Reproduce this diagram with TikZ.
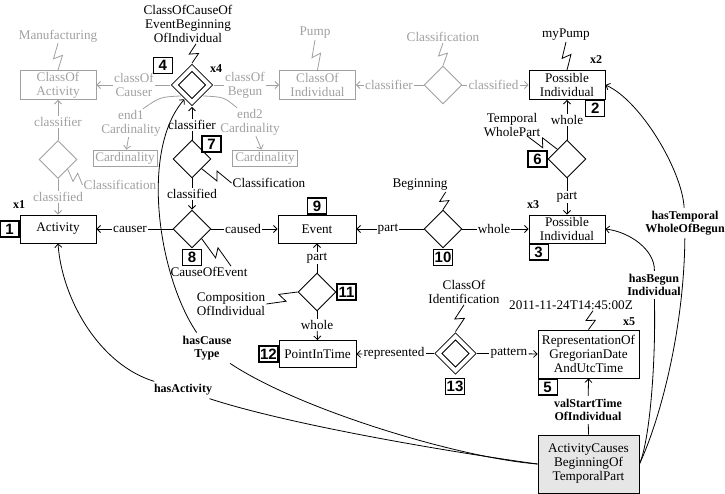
\documentclass[tikz,border=0pt]{standalone}
\usepackage{fontspec}
\setmainfont{Liberation Serif}
\newfontfamily\tagfont{Liberation Sans}
\usetikzlibrary{shapes.geometric,arrows.meta,calc}
\definecolor{lg}{HTML}{A0A0A0}
\definecolor{boxfill}{HTML}{E6E6E6}
\newcommand\zigline[3][]{\draw[conn,#1] (#2) -- ($(#2)!0.58!(#3)!4.5pt!-90:(#3)$) -- ($(#2)!0.45!(#3)!4.5pt!90:(#3)$) -- (#3);}
\begin{document}
\begin{tikzpicture}[x=1pt,y=-1pt,
  every node/.style={font=\fontsize{13.2}{14}\selectfont, inner sep=1pt, align=center},
  box/.style={draw, line width=0.9pt, minimum width=76pt, minimum height=28pt, inner sep=0pt},
  dia/.style={draw, diamond, line width=0.9pt, minimum width=38pt, minimum height=38pt, inner sep=0pt},
  ddia/.style={dia, double, double distance=4pt, minimum width=37pt, minimum height=37pt, outer sep=3.4pt},
  tagbox/.style={draw, line width=1.2pt, font=\fontsize{15}{15}\tagfont\bfseries, minimum width=19pt, minimum height=16pt, inner sep=0pt},
  bl/.style={font=\fontsize{12}{13.5}\selectfont\bfseries, inner sep=3pt},
  gr/.style={lg},
  conn/.style={line width=0.8pt},
  arr/.style={conn, -{Straight Barb[length=3.5pt,width=7pt]}},
]
\useasboundingbox (0,0) rectangle (725,494);

% ---------- grey part ----------
\node[box,gr,minimum height=29pt] (coa) at (58,85) {ClassOf\\Activity};
\node[gr] (manuf) at (58,36) {Manufacturing};
\node[box,gr,minimum height=29pt] (coi) at (317.5,85) {ClassOf\\Individual};
\node[gr] (pump) at (315,33) {Pump};
\node[dia,gr] (dcls1) at (443,85) {};
\node[gr] (cls1) at (443,37) {Classification};
\node[dia,gr] (dcls2) at (58,159.5) {};
\node[gr] (cls2) at (120,185) {Classification};
\node[box,gr,minimum width=64pt,minimum height=16pt] (card1) at (125,158) {Cardinality};
\node[box,gr,minimum width=65pt,minimum height=16pt] (card2) at (265,158) {Cardinality};
\node[gr] (end1) at (131,123) {end1\\Cardinality};
\node[gr] (end2) at (250,122) {end2\\Cardinality};
\node[gr] (cocauser) at (134,85) {classOf\\Causer};
\node[gr] (cobegun) at (245,85) {classOf\\Begun};
\node[gr] (clsr1) at (389,85) {classifier};
\node[gr] (clsd1) at (493.5,85) {classified};
\node[gr] (clsr2) at (58,122) {classifier};
\node[gr] (clsd2) at (58,197) {classified};

% ---------- black nodes ----------
\node[ddia] (d4) at (192,85) {};
\node[tagbox,anchor=south east] (t4) at (173,74) {4};
\node[bl] (x4) at (216,69) {x4};
\node (cocebi) at (188,24) {ClassOfCauseOf\\EventBeginning\\OfIndividual};
\node (clsr7) at (192,125) {classifier};
\node[dia] (d7) at (192,159) {};
\node[tagbox] (t7) at (211.5,144) {7};
\node (cls7) at (269,183) {Classification};
\node (clsd7) at (192,194) {classified};
\node[dia] (d8) at (192,229) {};
\node[tagbox,anchor=north] (t8) at (192,249) {8};
\node (coe) at (209,272) {CauseOfEvent};
\node[box] (activity) at (58,229) {Activity};
\node[tagbox,anchor=east] (t1) at (activity.west) {1};
\node[bl] (x1) at (19,205) {x1};
\node (causer) at (130,229) {causer};
\node (caused) at (243,229) {caused};
\node[box,minimum width=78pt] (event) at (317,229) {Event};
\node[tagbox,anchor=south] (t9) at (event.north) {9};
\node (part1) at (388,229) {part};
\node[dia] (d10) at (443,229) {};
\node[tagbox,anchor=north] (t10) at (443,249) {10};
\node (beg) at (420,185) {Beginning};
\node (whole1) at (494,229) {whole};
\node[box] (pi3) at (567,229) {Possible\\Individual};
\node[tagbox,anchor=north west] (t3) at (pi3.south west) {3};
\node[bl] (x3) at (533,205) {x3};
\node (part6) at (567,197) {part};
\node[dia] (d6) at (567,159) {};
\node[tagbox,anchor=east] (t6) at (d6.west) {6};
\node (whole6) at (567,120) {whole};
\node (twp) at (512,125) {Temporal\\WholePart};
\node[box,minimum height=29pt] (pi2) at (567,85) {Possible\\Individual};
\node[tagbox,anchor=north east] (t2) at (pi2.south east) {2};
\node[bl] (x2) at (596,60) {x2};
\node (mypump) at (566,35) {myPump};

\node[dia] (d11) at (317,292) {};
\node[tagbox,anchor=west] (t11) at (d11.east) {11};
\node (part11) at (317,258) {part};
\node (whole11) at (317,325) {whole};
\node (comp) at (231,304) {Composition\\OfIndividual};
\node[box,minimum width=77pt,minimum height=27pt] (pit) at (317.5,354) {PointInTime};
\node[tagbox,anchor=east] (t12) at (pit.west) {12};
\node (repd) at (394,353.5) {represented};
\node[ddia] (d13) at (455.5,353.5) {};
\node[tagbox,anchor=north] (t13) at (455,378) {13};
\node (coid) at (464,292) {ClassOf\\Identification};
\node (pattern) at (509,353.5) {pattern};
\node[box,minimum width=101pt,minimum height=48pt] (rep) at (588.5,354) {RepresentationOf\\GregorianDate\\AndUtcTime};
\node[tagbox,anchor=north west] (t5) at (rep.south west) {5};
\node[bl] (x5) at (629,322) {x5};
\node (date) at (571,305) {2011-11-24T14:45:00Z};
\node[bl] (vst) at (588,410) {valStartTime\\OfIndividual};
\node[box,fill=boxfill,minimum width=101pt,minimum height=58pt] (acbtp) at (588.5,464) {ActivityCauses\\BeginningOf\\TemporalPart};

\node[bl] (hbi) at (654,285) {hasBegun\\Individual};
\node[bl] (htw) at (685,223) {hasTemporal\\WholeOfBegun};
\node[bl] (hct) at (207,348) {hasCause\\Type};
\node[bl] (hact) at (183,390) {hasActivity};

% ---------- grey connectors ----------
\draw[conn,lg] (dcls1.west) -- (clsr1); \draw[arr,lg] (clsr1) -- (coi.east);
\draw[conn,lg] (dcls1.east) -- (clsd1); \draw[arr,lg] (clsd1) -- (pi2.west);
\draw[conn,lg] (dcls2.north) -- (clsr2); \draw[arr,lg] (clsr2) -- (coa.south);
\draw[conn,lg] (dcls2.south) -- (clsd2); \draw[arr,lg] (clsd2) -- (activity.north);
\draw[conn,lg] (d4.west) -- (cocauser); \draw[arr,lg] (cocauser) -- (coa.east);
\draw[conn,lg] (d4.east) -- (cobegun); \draw[arr,lg] (cobegun) -- (coi.west);
\coordinate (e1top) at ($(end1.north)+(12,0)$);
\coordinate (e2top) at ($(end2.north)+(-13,0)$);
\draw[conn,lg] (d4.south west) .. controls (160,97) .. (e1top);
\draw[conn,lg] (d4.south east) .. controls (224,97) .. (e2top);
\draw[arr,lg] (end1) -- (card1);
\draw[arr,lg] (end2) -- (card2);
\zigline[lg]{manuf.south}{coa.north}
\zigline[lg]{pump.south}{coi.north}
\zigline[lg]{cls1.south}{dcls1.north}
\zigline[lg]{dcls2.south east}{cls2.west}

% ---------- black connectors ----------
\draw[conn] (d7.north) -- (clsr7); \draw[arr] (clsr7) -- (d4.south);
\draw[conn] (d7.south) -- (clsd7); \draw[arr] (clsd7) -- (d8.north);
\draw[conn] (d8.west) -- (causer); \draw[arr] (causer) -- (activity.east);
\draw[conn] (d8.east) -- (caused); \draw[arr] (caused) -- (event.west);
\draw[conn] (d10.west) -- (part1); \draw[arr] (part1) -- (event.east);
\draw[conn] (d10.east) -- (whole1); \draw[arr] (whole1) -- (pi3.west);
\draw[conn] (d6.north) -- (whole6); \draw[arr] (whole6) -- (pi2.south);
\draw[conn] (d6.south) -- (part6); \draw[arr] (part6) -- (pi3.north);
\draw[conn] (d11.north) -- (part11); \draw[arr] (part11) -- (event.south);
\draw[conn] (d11.south) -- (whole11); \draw[arr] (whole11) -- (pit.north);
\draw[conn] (d13.west) -- (repd); \draw[arr] (repd) -- (pit.east);
\draw[conn] (d13.east) -- (pattern); \draw[arr] (pattern) -- (rep.west);
\draw[conn] (acbtp.north) -- (vst); \draw[arr] (vst) -- (rep.south);

% curved relations
\draw[conn] (acbtp.west) .. controls (450,452) and (290,425) .. (hact);
\draw[arr] (hact) .. controls (100,365) and (62,300) .. (activity.south);
\draw[conn] (acbtp.west) .. controls (460,458) and (300,410) .. (hct);
\draw[arr] (hct) .. controls (158,275) and (140,150) .. (d4.242);
\draw[conn] (acbtp.east) .. controls (650,440) and (656,360) .. (hbi);
\draw[arr] (hbi) .. controls (655,250) and (630,232) .. (pi3.east);
\draw[conn] (acbtp.east) .. controls (660,420) and (684,330) .. (htw);
\draw[arr] (htw) .. controls (682,170) and (640,100) .. (pi2.east);

% zigzag name links
\coordinate (cocz) at ($(cocebi.south)+(8,0)$);
\coordinate (twpz) at ($(twp.south)+(15,-2)$);
\coordinate (coez) at ($(coe.north)+(22,0)$);
\coordinate (begz) at ($(beg.south east)+(-3,0)$);
\coordinate (datez) at ($(date.south)+(22,0)$);
\zigline{mypump.south}{pi2.north}
\zigline{cocz}{d4.north}
\zigline{twpz}{d6.north west}
\zigline{d7.south east}{cls7.west}
\zigline{d8.south east}{coez}
\zigline{begz}{d10.north}
\zigline{comp.east}{d11.west}
\zigline{coid.south}{d13.north}
\zigline{datez}{rep.north}
\end{tikzpicture}
\end{document}
